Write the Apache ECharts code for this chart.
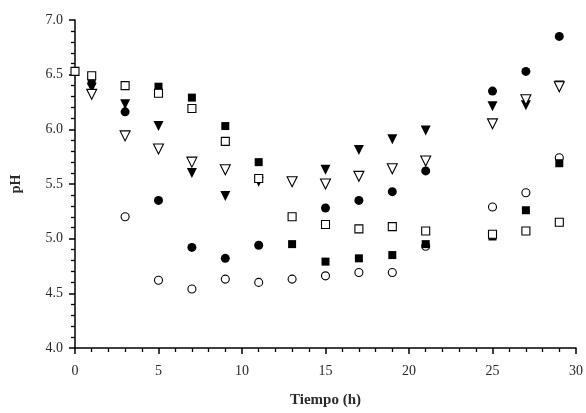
<!DOCTYPE html>
<html>
<head>
<meta charset="utf-8">
<script src="https://cdn.jsdelivr.net/npm/echarts@6/dist/echarts.min.js"></script>
<style>
  html, body { margin: 0; padding: 0; background: #fff; }
  #chart { width: 586px; height: 413px; }
</style>
</head>
<body>
<div id="chart"></div>
<script>
  // tiempo (h) y pH
  const circleFilled = [[3, 6.16], [5, 5.35], [7, 4.92], [9, 4.82], [11, 4.94], [15, 5.28], [17, 5.35], [19, 5.43], [21, 5.62], [25, 6.35], [27, 6.53], [29, 6.85]]
  const circleOpen = [[3, 5.20], [5, 4.62], [7, 4.54], [9, 4.63], [11, 4.60], [13, 4.63], [15, 4.66], [17, 4.69], [19, 4.69], [21, 4.93], [25, 5.29], [27, 5.42], [29, 5.74]]
  const squareFilled = [[1, 6.44], [5, 6.39], [7, 6.29], [9, 6.03], [11, 5.70], [13, 4.95], [15, 4.79], [17, 4.82], [19, 4.85], [21, 4.95], [25, 5.02], [27, 5.26], [29, 5.69]]
  const squareOpen = [[0, 6.53], [1, 6.49], [3, 6.40], [5, 6.33], [7, 6.19], [9, 5.89], [11, 5.55], [13, 5.20], [15, 5.13], [17, 5.09], [19, 5.11], [21, 5.07], [25, 5.04], [27, 5.07], [29, 5.15]]
  const triFilled = [[1, 6.38], [3, 6.23], [5, 6.03], [7, 5.60], [9, 5.39], [11, 5.52], [15, 5.63], [17, 5.81], [19, 5.91], [21, 5.99], [25, 6.21], [27, 6.22], [29, 6.40]]
  const triOpen = [[1, 6.32], [3, 5.94], [5, 5.82], [7, 5.70], [9, 5.63], [13, 5.52], [15, 5.50], [17, 5.57], [19, 5.64], [21, 5.71], [25, 6.05], [27, 6.27], [29, 6.39]]

  const ink = '#000'
  const textInk = '#2a2a2a'
  const font = 'Liberation Serif'

  // serie de puntos, rellenos o huecos
  const scatter = (data, symbol, filled, size, rotate) => ({
    type: 'scatter',
    data: data,
    symbol: symbol,
    symbolSize: size,
    symbolRotate: rotate || 0,
    itemStyle: {
      color: filled ? ink : '#fff',
      borderColor: ink,
      borderWidth: filled ? 0 : 1.1,
      opacity: 1
    }
  })

  const chart = echarts.init(document.getElementById('chart'))
  chart.setOption({
    animation: false,
    grid: { left: 75, right: 9, top: 20, bottom: 63 },
    xAxis: {
      type: 'value',
      min: 0,
      max: 30,
      interval: 5,
      name: 'Tiempo (h)',
      nameLocation: 'middle',
      nameGap: 45,
      nameTextStyle: { fontFamily: font, fontWeight: 'bold', fontSize: 15, color: textInk },
      splitLine: { show: false },
      axisLine: { lineStyle: { color: ink, width: 1.5 } },
      axisTick: { length: 6, lineStyle: { color: ink, width: 1.5 } },
      minorTick: { show: true, splitNumber: 5, length: 4, lineStyle: { color: ink, width: 1.3 } },
      axisLabel: { fontFamily: font, fontSize: 14, color: textInk, margin: 16 }
    },
    yAxis: {
      type: 'value',
      min: 4,
      max: 7,
      interval: 0.5,
      name: 'pH',
      nameLocation: 'middle',
      nameGap: 52,
      nameTextStyle: { fontFamily: font, fontWeight: 'bold', fontSize: 14, color: textInk },
      splitLine: { show: false },
      axisLine: { show: true, lineStyle: { color: ink, width: 1.5 } },
      axisTick: { show: true, length: 6, lineStyle: { color: ink, width: 1.5 } },
      minorTick: { show: true, splitNumber: 5, length: 4, lineStyle: { color: ink, width: 1.3 } },
      axisLabel: {
        fontFamily: font,
        fontSize: 14,
        color: textInk,
        margin: 12,
        formatter: (v) => v.toFixed(1)
      }
    },
    series: [
      scatter(circleFilled, 'circle', true, 9),
      scatter(circleOpen, 'circle', false, 8),
      scatter(triFilled, 'triangle', true, 10, 180),
      scatter(squareFilled, 'rect', true, 8),
      scatter(squareOpen, 'rect', false, 8),
      scatter(triOpen, 'triangle', false, 10, 180)
    ]
  })
</script>
</body>
</html>
